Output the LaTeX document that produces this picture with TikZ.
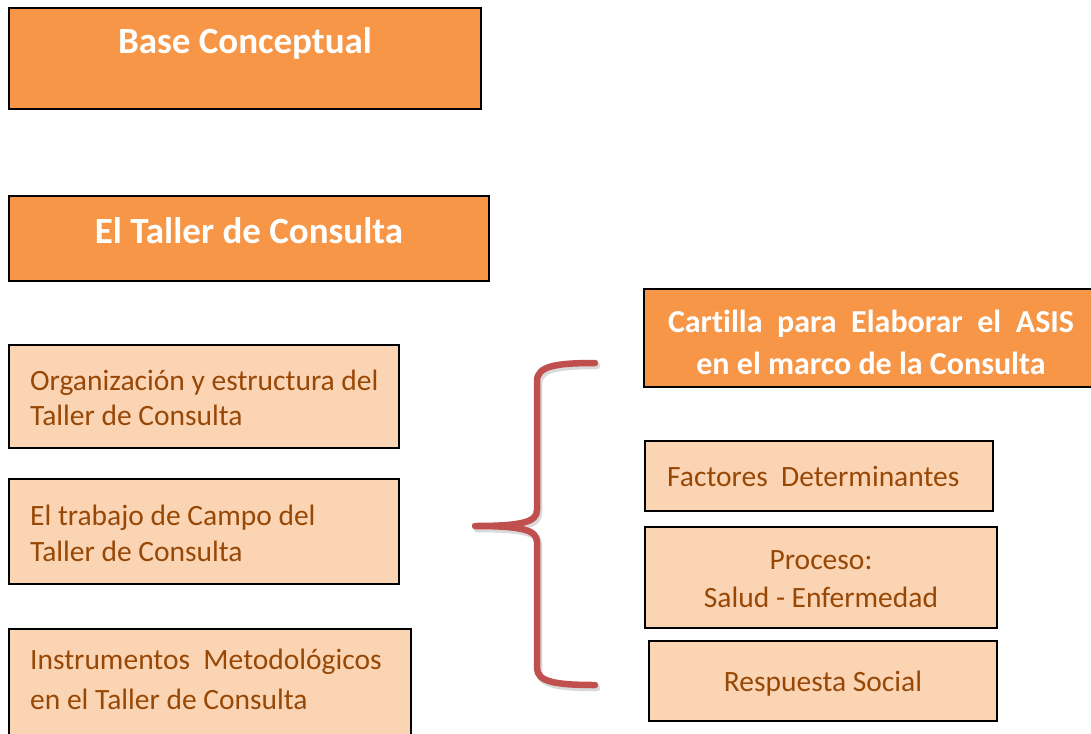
\documentclass[tikz,border=0pt]{standalone}
\usepackage{fontspec}
\setmainfont{Carlito}[Ligatures=NoCommon]
\definecolor{orng}{HTML}{F79646}
\definecolor{peach}{HTML}{FBD4B4}
\definecolor{brwn}{HTML}{984806}
\definecolor{bred}{HTML}{C0504D}
\newcommand\bracepathdef{(595,363) .. controls (556,363) and (537,366) .. (537,381) -- (537,510) .. controls (537,522) and (522,526) .. (475,526) .. controls (522,526) and (537,530) .. (537,542) -- (537,668) .. controls (537,682) and (556,685) .. (595,685)}
\begin{document}
\begin{tikzpicture}[x=1pt,y=-1pt,
  hbox/.style={draw=black,line width=1.6pt,fill=orng,inner sep=0pt,outer sep=0pt,anchor=north west},
  lbox/.style={draw=black,line width=1.6pt,fill=peach,inner sep=0pt,outer sep=0pt,anchor=north west},
  htext/.style={text=white,font=\fontsize{37}{44}\selectfont\bfseries,inner sep=0pt,anchor=base},
  ctitle/.style={text=white,font=\fontsize{32}{40}\selectfont\bfseries,inner sep=0pt,anchor=base},
  ltext/.style={text=brwn,font=\fontsize{29.5}{36}\selectfont,inner sep=0pt,anchor=base west},
  ctext/.style={text=brwn,font=\fontsize{29.5}{36}\selectfont,inner sep=0pt,anchor=base},
  bracestyle/.style={draw=bred,line width=6.5pt,line cap=round,line join=round}]
\useasboundingbox (0,0) rectangle (1091,733);
% boxes
\node[hbox,minimum width=472pt,minimum height=101pt] (base) at (9,8) {};
\node[hbox,minimum width=480pt,minimum height=85pt] (taller) at (9,196) {};
\node[hbox,minimum width=460pt,minimum height=98pt] (cart) at (644,289) {};
\node[lbox,minimum width=390pt,minimum height=103pt] (org) at (9,345) {};
\node[lbox,minimum width=390pt,minimum height=105pt] (campo) at (9,479) {};
\node[lbox,minimum width=402pt,minimum height=120pt] (instr) at (9,629) {};
\node[lbox,minimum width=348pt,minimum height=70pt] (fact) at (645,441) {};
\node[lbox,minimum width=352pt,minimum height=101pt] (proc) at (645,527) {};
\node[lbox,minimum width=348pt,minimum height=80pt] (resp) at (649,641) {};
% texts
\node[htext] (tbase) at (245,54) {Base Conceptual};
\node[htext] (ttaller) at (249,243) {El Taller de Consulta};
\node[ctitle] (tcart1) at (871,332) {\hbox to 406pt{Cartilla\hfill para\hfill Elaborar\hfill el\hfill ASIS}};
\node[ctitle] (tcart2) at (871,374) {en el marco de la Consulta};
\node[ltext] (torg1) at (30,390) {Organización y estructura del};
\node[ltext] (torg2) at (30,425) {Taller de Consulta};
\node[ltext] (tcampo1) at (30,525) {El trabajo de Campo del};
\node[ltext] (tcampo2) at (30,561) {Taller de Consulta};
\node[ltext] (tinstr1) at (30,669) {Instrumentos\ \ Metodológicos};
\node[ltext] (tinstr2) at (30,709) {en el Taller de Consulta};
\node[ltext] (tfact) at (667,486) {Factores\ \ Determinantes};
\node[ctext] (tproc1) at (821,569) {Proceso:};
\node[ctext] (tproc2) at (821,607) {Salud - Enfermedad};
\node[ctext] (tresp) at (823,691) {Respuesta Social};
% brace
\begin{scope}[shift={(2,3)}]
\draw[bracestyle,draw=black,opacity=0.15] \bracepathdef;
\end{scope}
\draw[bracestyle] \bracepathdef;
\end{tikzpicture}
\end{document}
